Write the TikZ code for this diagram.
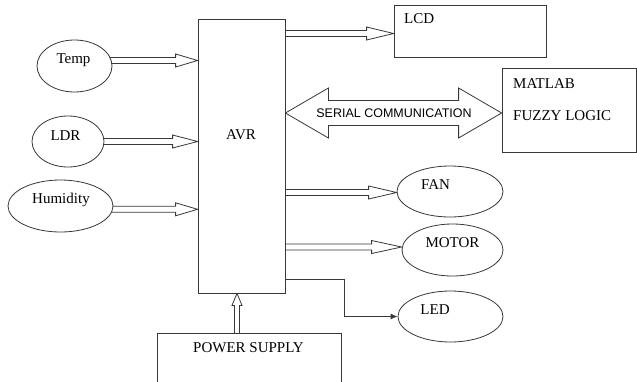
\documentclass[tikz,border=0pt]{standalone}
\usepackage{fontspec}
\setmainfont{Liberation Serif}
\newfontfamily\sansf{Liberation Sans}
\usetikzlibrary{shapes.geometric,calc,arrows.meta}
\pgfdeclarelayer{back}
\pgfdeclarelayer{bg}
\pgfsetlayers{back,bg,main}
\tikzset{
  line/.style={draw=black!78, line width=0.8pt},
  ell/.style={ellipse, line, fill=white, inner sep=0},
  blk/.style={rectangle, line, fill=white, inner sep=0},
  txt/.style={inner sep=0, font=\fontsize{15}{18}\selectfont},
  hol/.style={line, fill=white, line join=miter},
}
% horizontal hollow double-shaft arrow: #1 start, #2 tip, #3 head length
\newcommand{\harrow}[3]{%
  \path (#1) coordinate (hs) (#2) coordinate (ht);
  \draw[hol] ($(hs)+(0,-3)$) -- ($(ht)+(-#3,-3)$) -- ($(ht)+(-#3,-6.5)$) -- (ht)
     -- ($(ht)+(-#3,6.5)$) -- ($(ht)+(-#3,3)$) -- ($(hs)+(0,3)$);}
\begin{document}
\begin{tikzpicture}[x=1pt,y=-1pt]
\clip (0,0) rectangle (637,381);
\begin{pgfonlayer}{back}
\fill[white] (0,0) rectangle (637,381);
\end{pgfonlayer}
% nodes
\node[ell, minimum width=75pt, minimum height=52pt] (temp) at (74.5,66) {};
\node[ell, minimum width=72pt, minimum height=51pt] (ldr) at (68,141.5) {};
\node[ell, minimum width=105pt, minimum height=52pt] (hum) at (60.5,206) {};
\node[ell, minimum width=106pt, minimum height=51pt] (fan) at (450,191.5) {};
\node[ell, minimum width=101pt, minimum height=52pt] (motor) at (452.5,250) {};
\node[ell, minimum width=105pt, minimum height=51pt] (led) at (450.5,316.5) {};
\node[blk, minimum width=87pt, minimum height=274pt] (avr) at (241.5,156) {};
\node[blk, minimum width=152pt, minimum height=52pt] (lcd) at (470,31) {};
\node[blk, minimum width=134pt, minimum height=84pt] (matlab) at (569,110) {};
\node[blk, minimum width=184pt, minimum height=80pt] (power) at (249,373) {};
% connectors
\begin{pgfonlayer}{bg}
  \harrow{$(temp.center)+(0,-5.5)$}{avr.west |- hs}{22}
  \harrow{ldr.center}{avr.west |- hs}{25}
  \harrow{$(hum.center)+(0,3.3)$}{avr.west |- hs}{22}
  \harrow{avr.center |- 0,33.5}{lcd.west |- hs}{27}
  \harrow{avr.center |- 0,192.5}{fan.west |- hs}{28}
  \harrow{avr.center |- 0,247}{motor.west |- hs}{30}
  % power supply arrow
  \path ($(avr.south)+(-4.5,0)$) coordinate (vt) (vt |- power.center) coordinate (vs);
  \draw[hol] ($(vs)+(-2.5,0)$) -- ($(vt)+(-2.5,12)$) -- ($(vt)+(-5,12)$) -- (vt)
     -- ($(vt)+(5,12)$) -- ($(vt)+(2.5,12)$) -- ($(vs)+(2.5,0)$);
  % serial communication double arrow
  \path (avr.east |- 0,113) coordinate (sl) (matlab.west |- sl) coordinate (sr);
  \draw[hol] (sl) -- ($(sl)+(43,-25)$) -- ($(sl)+(43,-12.5)$) -- ($(sr)+(-43,-12.5)$)
     -- ($(sr)+(-43,-25)$) -- (sr) -- ($(sr)+(-43,25)$) -- ($(sr)+(-43,12.5)$)
     -- ($(sl)+(43,12.5)$) -- ($(sl)+(43,25)$) -- cycle;
\end{pgfonlayer}
\coordinate (ls) at ($(avr.south east)+(0,-14)$);
\draw[line, -{Latex[length=7pt,width=6pt]}] (ls) -- ++(59,0) |- (led.west);
% texts
\node[txt, anchor=base] (tempt) at (73.5,63) {Temp};
\node[txt, anchor=base] (ldrt) at (65.5,140) {LDR};
\node[txt, anchor=base] (humt) at (61,203) {Humidity};
\node[txt, anchor=base] (avrt) at (241,139) {AVR};
\node[txt, anchor=base west] (lcdt) at (404,23) {LCD};
\node[txt, anchor=base west] (matt) at (513,88) {MATLAB};
\node[txt, anchor=base west] (fuzt) at (513,120) {FUZZY LOGIC};
\node[txt, anchor=base] (fant) at (435.5,189) {FAN};
\node[txt, anchor=base] (mott) at (452.5,247) {MOTOR};
\node[txt, anchor=base] (ledt) at (435,314) {LED};
\node[txt, anchor=base] (powt) at (248.5,352) {POWER SUPPLY};
\node[inner sep=0, anchor=base, font=\sansf\fontsize{12.5}{15}\selectfont] (sert) at (394,117) {SERIAL COMMUNICATION};
\end{tikzpicture}
\end{document}
